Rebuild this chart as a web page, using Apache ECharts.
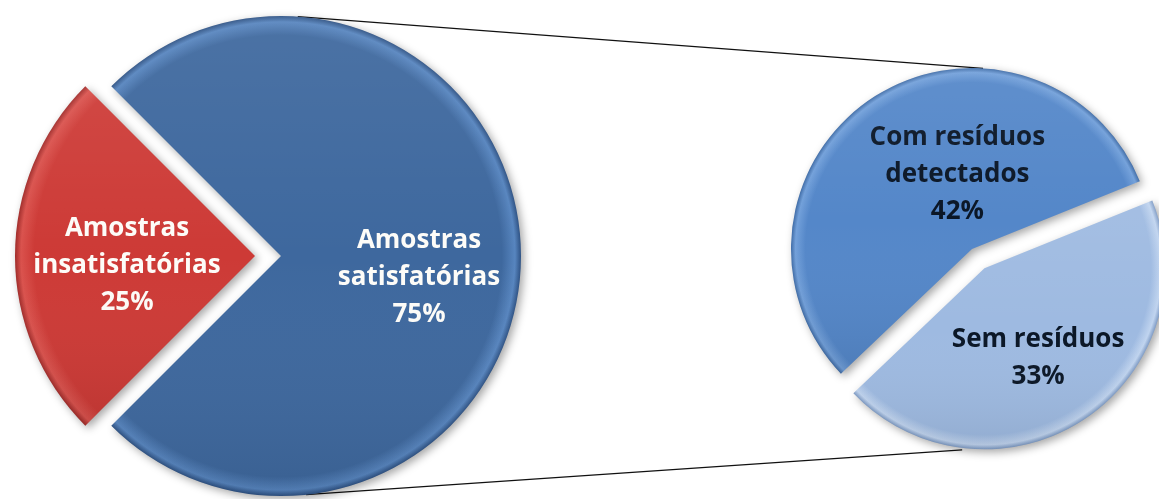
<!DOCTYPE html>
<html>
<head>
<meta charset="utf-8">
<title>Amostras</title>
<script src="https://cdn.jsdelivr.net/npm/echarts@6/dist/echarts.min.js"></script>
<style>
  html, body { margin: 0; padding: 0; background: #ffffff; }
  #chart { width: 1159px; height: 499px; }
</style>
</head>
<body>
<div id="chart"></div>
<script>
// Main pie: all samples
const mainNames = ['Amostras insatisfatórias', 'Amostras satisfatórias'];
const mainLabels = ['Amostras\ninsatisfatórias', 'Amostras\nsatisfatórias'];
const mainValues = [25, 75];

// Secondary pie: breakdown of the satisfactory samples (share of the total)
const subNames = ['Sem resíduos', 'Com resíduos detectados'];
const subLabels = ['Sem resíduos', 'Com resíduos\ndetectados'];
const subValues = [33, 42];

// Layout
const MAIN = { cx: 281, cy: 256, r: 240, start: 225, explode: 26 };
const SUB = { cx: 972, cy: 249, r: 181, start: 22, explode: 23 };

const FONT = "'Open Sans', 'DejaVu Sans', sans-serif";

function rimGradient(cx, cy, r, base, rim, edge) {
  return {
    type: 'radial', x: cx, y: cy, r: r, global: true,
    colorStops: [
      { offset: 0, color: base },
      { offset: 0.92, color: base },
      { offset: 0.975, color: rim },
      { offset: 1, color: edge }
    ]
  };
}

const mainStyles = [
  rimGradient(MAIN.cx, MAIN.cy, MAIN.r, '#CD3A36', '#DA524D', '#A02B29'),
  rimGradient(MAIN.cx, MAIN.cy, MAIN.r, '#3E689E', '#5785BF', '#2E5284')
];
const subStyles = [
  rimGradient(SUB.cx, SUB.cy, SUB.r, '#9EBAE1', '#C0D4EF', '#7E9BC5'),
  rimGradient(SUB.cx, SUB.cy, SUB.r, '#5487C9', '#72A0DA', '#3E6BA6')
];

const shade = {
  type: 'linear', x: 0, y: 0, x2: 0, y2: 1,
  colorStops: [
    { offset: 0, color: 'rgba(255,255,255,0.07)' },
    { offset: 0.5, color: 'rgba(255,255,255,0)' },
    { offset: 1, color: 'rgba(0,0,0,0.08)' }
  ]
};

const shadow = {
  shadowBlur: 8,
  shadowColor: 'rgba(0,0,0,0.35)',
  shadowOffsetX: 3,
  shadowOffsetY: 3
};

// Label nudges from the default inside position
const mainNudge = [[-5, 10], [15, 22]];
const subNudge = [[3, 11], [36, 4]];

function pieData(names, values, labels, styles, explodeIdx) {
  return names.map((n, i) => ({
    name: n,
    value: values[i],
    selected: i === explodeIdx,
    itemStyle: Object.assign({ color: styles[i] }, shadow),
    label: { formatter: labels[i] + '\n' + values[i] + '%' }
  }));
}

function overlayData(names, values, explodeIdx) {
  return names.map((n, i) => ({
    name: n, value: values[i], selected: i === explodeIdx,
    itemStyle: { color: shade }
  }));
}

function pt(c, r, deg) {
  const a = deg * Math.PI / 180;
  return [c[0] + r * Math.cos(a), c[1] - r * Math.sin(a)];
}

// Sector centre of the exploded slice in the secondary pie
const subTotal = subValues.reduce((a, b) => a + b, 0);
const semMid = SUB.start - (subValues[0] / subTotal) * 180;
const semCenter = pt([SUB.cx, SUB.cy], SUB.explode, semMid);

const topA = pt([MAIN.cx, MAIN.cy], MAIN.r, 86);
const topB = pt([SUB.cx, SUB.cy], SUB.r, 86.5);
const botA = pt([MAIN.cx, MAIN.cy], MAIN.r, -84);
const botB = pt(semCenter, SUB.r + 2, -97);

const chart = echarts.init(document.getElementById('chart'), null, { renderer: 'canvas' });

const baseSeries = {
  type: 'pie',
  selectedMode: 'single',
  avoidLabelOverlap: false,
  animation: false,
  emphasis: { disabled: true },
  labelLine: { show: false }
};

chart.setOption({
  backgroundColor: '#ffffff',
  animation: false,
  graphic: [
    { type: 'line', z: 0, shape: { x1: topA[0], y1: topA[1], x2: topB[0], y2: topB[1] },
      style: { stroke: '#111', lineWidth: 1.2 } },
    { type: 'line', z: 0, shape: { x1: botA[0], y1: botA[1], x2: botB[0], y2: botB[1] },
      style: { stroke: '#111', lineWidth: 1.2 } }
  ],
  series: [
    Object.assign({}, baseSeries, {
      name: 'main',
      center: [MAIN.cx, MAIN.cy],
      radius: MAIN.r,
      startAngle: MAIN.start,
      selectedOffset: MAIN.explode,
      z: 2,
      label: {
        show: true, position: 'inside', color: '#fdfcf8',
        fontFamily: FONT, fontWeight: 'bold', fontSize: 26, lineHeight: 37, align: 'center'
      },
      labelLayout: p => ({ dx: mainNudge[p.dataIndex][0], dy: mainNudge[p.dataIndex][1] }),
      data: pieData(mainNames, mainValues, mainLabels, mainStyles, 0)
    }),
    Object.assign({}, baseSeries, {
      name: 'mainShade', silent: true,
      center: [MAIN.cx, MAIN.cy], radius: MAIN.r, startAngle: MAIN.start,
      selectedOffset: MAIN.explode, z: 3,
      label: { show: false },
      data: overlayData(mainNames, mainValues, 0)
    }),
    Object.assign({}, baseSeries, {
      name: 'sub',
      center: [SUB.cx, SUB.cy],
      radius: SUB.r,
      startAngle: SUB.start,
      selectedOffset: SUB.explode,
      z: 2,
      label: {
        show: true, position: 'inside', color: '#0a1626',
        fontFamily: FONT, fontWeight: 'bold', fontSize: 26, lineHeight: 37, align: 'center'
      },
      labelLayout: p => ({ dx: subNudge[p.dataIndex][0], dy: subNudge[p.dataIndex][1] }),
      data: pieData(subNames, subValues, subLabels, subStyles, 0)
    }),
    Object.assign({}, baseSeries, {
      name: 'subShade', silent: true,
      center: [SUB.cx, SUB.cy], radius: SUB.r, startAngle: SUB.start,
      selectedOffset: SUB.explode, z: 3,
      label: { show: false },
      data: overlayData(subNames, subValues, 0)
    })
  ]
});
</script>
</body>
</html>
